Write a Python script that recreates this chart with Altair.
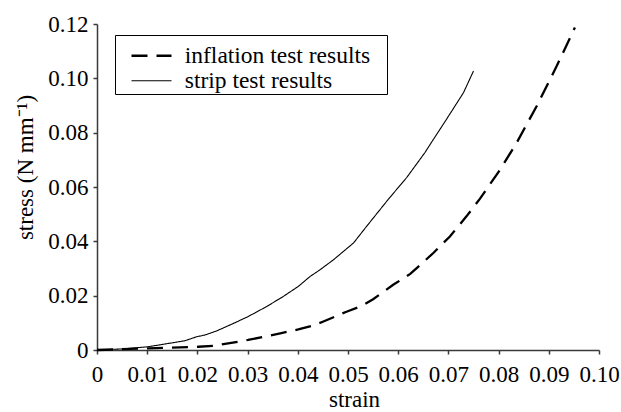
import altair as alt
import pandas as pd

series_names = ["inflation test results", "strip test results"]

inflation_x = [0, 0.0102, 0.0202, 0.0232, 0.0301, 0.0365, 0.0401, 0.0431, 0.0451, 0.0497,
               0.0527, 0.055, 0.059, 0.0624, 0.067, 0.0703, 0.0736, 0.0763, 0.0803, 0.0836,
               0.0876, 0.0916, 0.0952]
inflation_y = [0, 0.0006, 0.0012, 0.0015, 0.0037, 0.0061, 0.0076, 0.0090, 0.0105, 0.0141,
               0.0162, 0.0187, 0.024, 0.028, 0.0357, 0.0418, 0.0492, 0.0557, 0.0664, 0.0763,
               0.0898, 0.1046, 0.1187]

strip_x = [0, 0.005, 0.0102, 0.0175, 0.0199, 0.0215, 0.0238, 0.0272, 0.0301, 0.0338,
           0.0371, 0.0401, 0.0424, 0.0444, 0.0471, 0.0511, 0.0537, 0.058, 0.0617, 0.0653,
           0.067, 0.0693, 0.073, 0.075]
strip_y = [0, 0.0004, 0.0012, 0.0034, 0.0049, 0.0055, 0.007, 0.0098, 0.0123, 0.016,
           0.0197, 0.0234, 0.027, 0.0295, 0.0332, 0.0394, 0.0455, 0.0554, 0.0635, 0.0726,
           0.0775, 0.0840, 0.0947, 0.1027]

x_ticks = [0, 0.01, 0.02, 0.03, 0.04, 0.05, 0.06, 0.07, 0.08, 0.09, 0.10]
y_ticks = [0, 0.02, 0.04, 0.06, 0.08, 0.10, 0.12]

rows = []
for i, (xv, yv) in enumerate(zip(inflation_x, inflation_y)):
    rows.append({"series": series_names[0], "strain": xv, "stress": yv, "order": i})
for i, (xv, yv) in enumerate(zip(strip_x, strip_y)):
    rows.append({"series": series_names[1], "strain": xv, "stress": yv, "order": i})
df = pd.DataFrame(rows)

FONT = "Liberation Serif, Times New Roman, Times, serif"
AXIS_COLOR = "#3a3a3a"
label_expr = "datum.value == 0 ? '0' : format(datum.value, '.2f')"


def make_legend():
    return alt.Legend(
        title=" ", titleFontSize=8, titlePadding=0, titleFont=FONT,
        orient="none", legendX=18, legendY=11,
        symbolType="M-2,0H2M22.9,0", symbolSize=400, symbolOffset=23.75,
        labelOffset=21.5, labelFontSize=23.5, labelFont=FONT,
        labelColor="black", rowPadding=0, padding=1,
        strokeColor="black", fillColor="white", labelLimit=400)


chart = alt.Chart(df).mark_line(strokeCap="butt").encode(
    x=alt.X("strain:Q",
            scale=alt.Scale(domain=[0, 0.1], nice=False, zero=True),
            axis=alt.Axis(title="strain", values=x_ticks, labelExpr=label_expr,
                          grid=False, tickSize=4, labelPadding=9,
                          titleX=257, titleY=56, titleBaseline="alphabetic",
                          labelFlush=False, labelOverlap=False)),
    y=alt.Y("stress:Q",
            scale=alt.Scale(domain=[0, 0.12], nice=False, zero=True),
            axis=alt.Axis(title="stress (N mm⁻¹)", values=y_ticks, labelExpr=label_expr,
                          grid=False, tickSize=4, labelPadding=5,
                          titleAngle=270, titleX=-65, titleY=143,
                          titleBaseline="alphabetic", titleAlign="center",
                          labelFlush=False, labelOverlap=False)),
    order="order:Q",
    color=alt.Color("series:N",
                    scale=alt.Scale(domain=series_names, range=["black", "black"]),
                    legend=make_legend()),
    strokeDash=alt.StrokeDash("series:N",
                              scale=alt.Scale(domain=series_names, range=[[16, 9], [1, 0]]),
                              legend=make_legend()),
    strokeWidth=alt.StrokeWidth("series:N",
                                scale=alt.Scale(domain=series_names, range=[2.3, 1.1]),
                                legend=make_legend()),
).properties(
    width=502, height=326,
    autosize=alt.AutoSizeParams(type="none"),
    padding={"left": 97, "top": 24, "right": 22, "bottom": 62},
).configure_view(
    stroke=None
).configure_axis(
    labelFont=FONT, titleFont=FONT, labelFontSize=23, titleFontSize=23,
    labelColor="black", titleColor="black", titleFontWeight="normal",
    domainColor=AXIS_COLOR, tickColor=AXIS_COLOR, domainWidth=1.5, tickWidth=1.5,
)

chart.save("out.html", embed_options={"renderer": "svg", "actions": False})
